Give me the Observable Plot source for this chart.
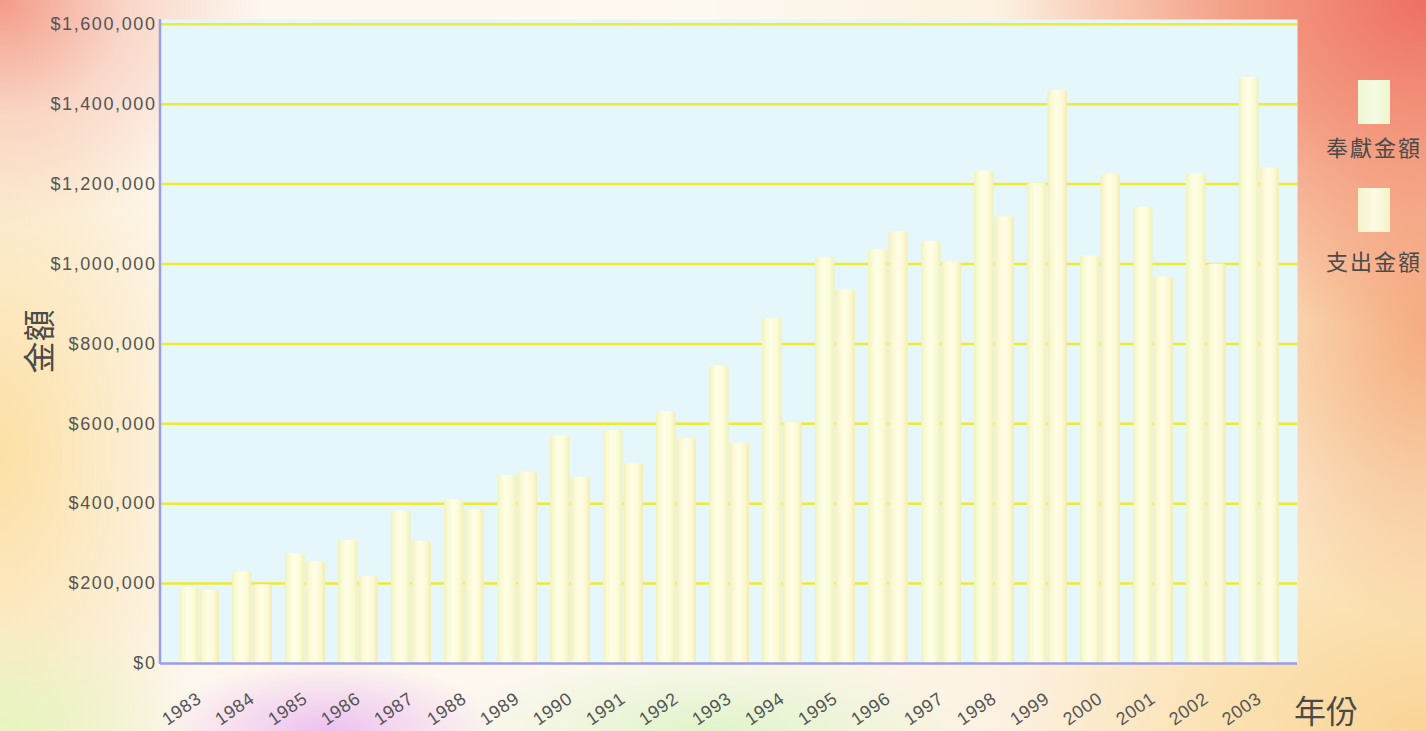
<!DOCTYPE html>
<html>
<head>
<meta charset="utf-8">
<script src="https://cdn.jsdelivr.net/npm/d3@7"></script>
<script src="https://cdn.jsdelivr.net/npm/@observablehq/plot@0.6"></script>
<style>
html, body { margin: 0; padding: 0; width: 1426px; height: 731px; overflow: hidden; }
#wrap {
  position: relative; width: 1426px; height: 731px;
  background:
    radial-gradient(ellipse 430px 330px at 100% 0%, rgba(238,112,98,1) 0%, rgba(242,140,115,0.8) 45%, rgba(246,170,140,0) 100%),
    radial-gradient(ellipse 260px 230px at 0% 0%, rgba(243,150,130,0.95) 0%, rgba(246,185,165,0.5) 50%, rgba(250,220,205,0) 100%),
    radial-gradient(ellipse 170px 70px at 23% 100%, rgba(236,190,240,0.95) 0%, rgba(240,205,240,0) 100%),
    radial-gradient(ellipse 260px 80px at 50% 100%, rgba(222,244,200,0.95) 0%, rgba(230,245,210,0) 100%),
    radial-gradient(ellipse 220px 300px at 100% 45%, rgba(245,172,128,1) 0%, rgba(247,190,140,0.6) 55%, rgba(250,215,170,0) 100%),
    radial-gradient(ellipse 420px 260px at 100% 100%, rgba(250,212,150,1) 0%, rgba(251,222,165,0.7) 50%, rgba(252,232,190,0) 100%),
    radial-gradient(ellipse 200px 120px at 0% 100%, rgba(230,245,190,1) 0%, rgba(235,245,200,0) 100%),
    radial-gradient(ellipse 220px 420px at 0% 62%, rgba(252,224,165,1) 0%, rgba(252,235,190,0) 100%),
    linear-gradient(to right, #fdf6ee 0%, #fdf8f0 50%, #fbe8cc 100%);
}
#chart { position: absolute; left: 0; top: 0; }
.legend { position: absolute; left: 1320px; width: 108px; text-align: center;
  font-family: "Noto Sans CJK TC", "Noto Sans CJK SC", sans-serif; font-size: 22px;
  color: #4a4a4a; letter-spacing: 2px; }
.sw { position: absolute; width: 32px; height: 44px; left: 1358px; }
#xtitle { position: absolute; left: 1294px; top: 692px; font-family: "Noto Sans CJK TC", sans-serif;
  font-size: 32px; line-height: 34px; color: #4a4a4a; white-space: nowrap; }
</style>
</head>
<body>
<div id="wrap">
  <div id="chart"></div>
  <div class="sw" style="top:80px;background:linear-gradient(to right,#eef6d2,#f6fbe4,#eef5d0);"></div>
  <div class="legend" style="top:130px;">奉獻金額</div>
  <div class="sw" style="top:188px;background:linear-gradient(to right,#f6f3cc,#fcfbe4,#f5f2c8);"></div>
  <div class="legend" style="top:244px;">支出金額</div>
  <div id="xtitle">年份</div>
</div>
<script>
const years = ["1983","1984","1985","1986","1987","1988","1989","1990","1991","1992","1993",
               "1994","1995","1996","1997","1998","1999","2000","2001","2002","2003"];
const giving   = [190000, 229000, 275000, 308000, 381000, 410000, 471000, 569000, 583000, 631000, 745000,
                  863000, 1017000, 1036000, 1057000, 1233000, 1202000, 1020000, 1142000, 1225000, 1467000];
const spending = [183000, 197000, 255000, 218000, 306000, 385000, 479000, 466000, 500000, 563000, 552000,
                  603000, 935000, 1081000, 1007000, 1118000, 1434000, 1225000, 968000, 1000000, 1240000];
const yTicks = [0, 200000, 400000, 600000, 800000, 1000000, 1200000, 1400000, 1600000];
const seriesNames = ["奉獻金額", "支出金額"];

const rows = years.map((year, i) => ({year, giving: giving[i], spending: spending[i]}));

const chart = Plot.plot({
  width: 1426,
  height: 731,
  marginLeft: 160,
  marginRight: 129,
  marginTop: 19,
  marginBottom: 68,
  style: {background: "transparent", fontFamily: "'Liberation Sans', Arial, sans-serif", overflow: "visible"},
  x: {type: "band", domain: years, paddingInner: 0.25, paddingOuter: 0.27},
  y: {domain: [0, 1612000]},
  marks: [
    Plot.frame({fill: "#e5f7fa", stroke: null}),
    Plot.ruleY(yTicks.slice(1), {stroke: "#f0ea30", strokeWidth: 2.5}),
    Plot.barY(rows, {x: "year", y: "giving", insetRight: 20.5, fill: "url(#cylA)", rx: 3, title: d => seriesNames[0]}),
    Plot.barY(rows, {x: "year", y: "spending", insetLeft: 20.5, fill: "url(#cylB)", rx: 3, title: d => seriesNames[1]}),
    Plot.ruleY([0], {stroke: "#9c9ce8", strokeWidth: 2.5}),
    Plot.axisY({ticks: yTicks, tickFormat: d => "$" + d3.format(",")(d), tickSize: 0, tickPadding: 4,
                fontSize: 18, fill: "#555", label: "金額", labelArrow: "none", labelAnchor: "center", labelOffset: 132}),
    Plot.axisX({tickSize: 0, tickRotate: -35, tickPadding: 33, dx: 0, fontSize: 18, fill: "#555", label: null})
  ]
});

document.getElementById("chart").appendChild(chart);

const svg = d3.select(chart);
const defs = svg.insert("defs", ":first-child");
function grad(id, stops) {
  const g = defs.append("linearGradient").attr("id", id)
    .attr("x1", "0").attr("x2", "1").attr("y1", "0").attr("y2", "0");
  stops.forEach(([o, c]) => g.append("stop").attr("offset", o).attr("stop-color", c));
}
grad("cylA", [[0, "#f0f3bd"], [0.2, "#f9fad4"], [0.45, "#fffee8"], [0.75, "#fcfbd6"], [1, "#eff1b8"]]);
grad("cylB", [[0, "#f4efbc"], [0.2, "#fbf8d2"], [0.45, "#fffde6"], [0.75, "#fdf9d4"], [1, "#f2edb5"]]);

// left axis line, from scales
const xs = chart.scale("x"), ys = chart.scale("y");
svg.append("line")
  .attr("x1", xs.range[0]).attr("x2", xs.range[0])
  .attr("y1", ys.range[1]).attr("y2", ys.range[0] + 1)
  .attr("stroke", "#9c9ce8").attr("stroke-width", 2.5);

svg.selectAll("[aria-label='y-axis tick label'] text").style("letter-spacing", "1.6px");
svg.selectAll("[aria-label='x-axis tick label'] text").style("letter-spacing", "0.8px");
svg.selectAll("[aria-label='y-axis label'] text").each(function() {
  this.textContent = this.textContent.replace(/[\s→↑]+$/u, "").replace(/^[↑→\s]+/u, "");
});
svg.selectAll("[aria-label='y-axis label'] text, [aria-label='y-axis label']")
  .style("font-size", "32px").style("font-family", "'Noto Sans CJK TC', sans-serif").attr("fill", "#4a4a4a");
</script>
</body>
</html>
